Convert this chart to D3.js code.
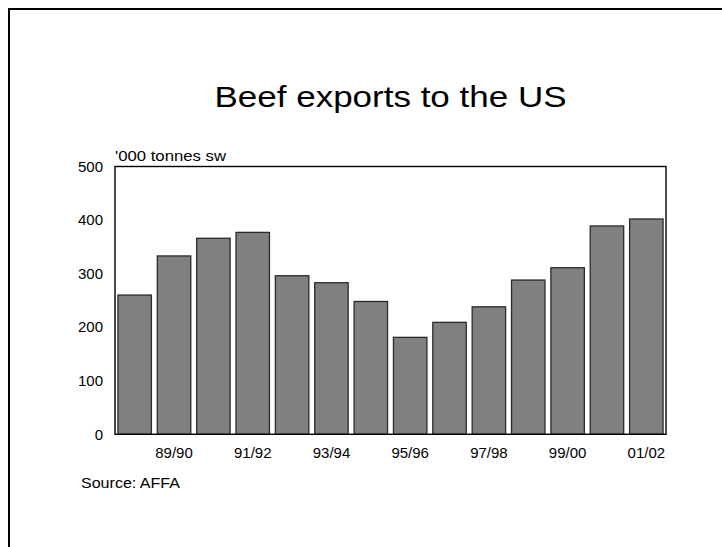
<!DOCTYPE html>
<html>
<head>
<meta charset="utf-8">
<script src="https://cdn.jsdelivr.net/npm/d3@7"></script>
<style>
  html, body { margin: 0; padding: 0; background: #fff; }
  svg { display: block; }
  text { font-family: "Liberation Sans", Arial, sans-serif; fill: #000; }
</style>
</head>
<body>
<div id="chart"></div>
<script>
const categories = ["88/89","89/90","90/91","91/92","92/93","93/94","94/95","95/96","96/97","97/98","98/99","99/00","00/01","01/02"];
const exportsUS = [260, 333, 366, 377, 296, 283, 248, 181, 209, 238, 288, 311, 389, 402];
const yTicks = [0, 100, 200, 300, 400, 500];
const xTickLabels = ["89/90","91/92","93/94","95/96","97/98","99/00","01/02"];
const titleText = "Beef exports to the US";
const unitText = "'000 tonnes sw";
const sourceText = "Source: AFFA";

const W = 722, H = 547;
const plot = { left: 115, right: 666, top: 166.5, bottom: 434.3 };

const svg = d3.select("#chart").append("svg").attr("width", W).attr("height", H);
svg.append("rect").attr("width", W).attr("height", H).attr("fill", "#fff");

// outer border (left and top)
svg.append("path").attr("d", `M9,${H} V9 H${W}`).attr("fill", "none")
  .attr("stroke", "#000").attr("stroke-width", 2);

const x = d3.scaleBand().domain(categories).range([plot.left, plot.right])
  .paddingInner(0.15).paddingOuter(0.075);
const y = d3.scaleLinear().domain([0, 500]).range([plot.bottom, plot.top]);

// bars
svg.append("g").selectAll("rect").data(categories).join("rect")
  .attr("x", d => x(d))
  .attr("y", (d, i) => y(exportsUS[i]))
  .attr("width", x.bandwidth())
  .attr("height", (d, i) => y(0) - y(exportsUS[i]))
  .attr("fill", "#808080")
  .attr("stroke", "#2a2a2a")
  .attr("stroke-width", 1.3);

// frame
svg.append("rect").attr("x", plot.left).attr("y", plot.top)
  .attr("width", plot.right - plot.left).attr("height", plot.bottom - plot.top)
  .attr("fill", "none").attr("stroke", "#000").attr("stroke-width", 1.4);

// y axis labels
const yAxis = d3.axisLeft(y).tickValues(yTicks).tickSize(0).tickPadding(12);
const gy = svg.append("g").attr("transform", `translate(${plot.left},0)`).call(yAxis);
gy.select(".domain").remove();
gy.selectAll("text").attr("font-size", 15).attr("font-family", "Liberation Sans, Arial, sans-serif").attr("fill", "#000");

// x axis labels
const xAxis = d3.axisBottom(x).tickValues(xTickLabels).tickSize(0).tickPadding(13);
const gx = svg.append("g").attr("transform", `translate(0,${plot.bottom})`).call(xAxis);
gx.select(".domain").remove();
gx.selectAll("text").attr("font-size", 15).attr("font-family", "Liberation Sans, Arial, sans-serif").attr("fill", "#000");

// title
svg.append("text").attr("x", (plot.left + plot.right) / 2).attr("y", 107)
  .attr("text-anchor", "middle").attr("font-size", 30)
  .attr("textLength", 352).attr("lengthAdjust", "spacingAndGlyphs")
  .text(titleText);

// unit
svg.append("text").attr("x", plot.left).attr("y", 161)
  .attr("font-size", 15.5).attr("textLength", 111).attr("lengthAdjust", "spacingAndGlyphs")
  .text(unitText);

// source
svg.append("text").attr("x", 81).attr("y", 488)
  .attr("font-size", 15.5).attr("textLength", 99).attr("lengthAdjust", "spacingAndGlyphs")
  .text(sourceText);
</script>
</body>
</html>
